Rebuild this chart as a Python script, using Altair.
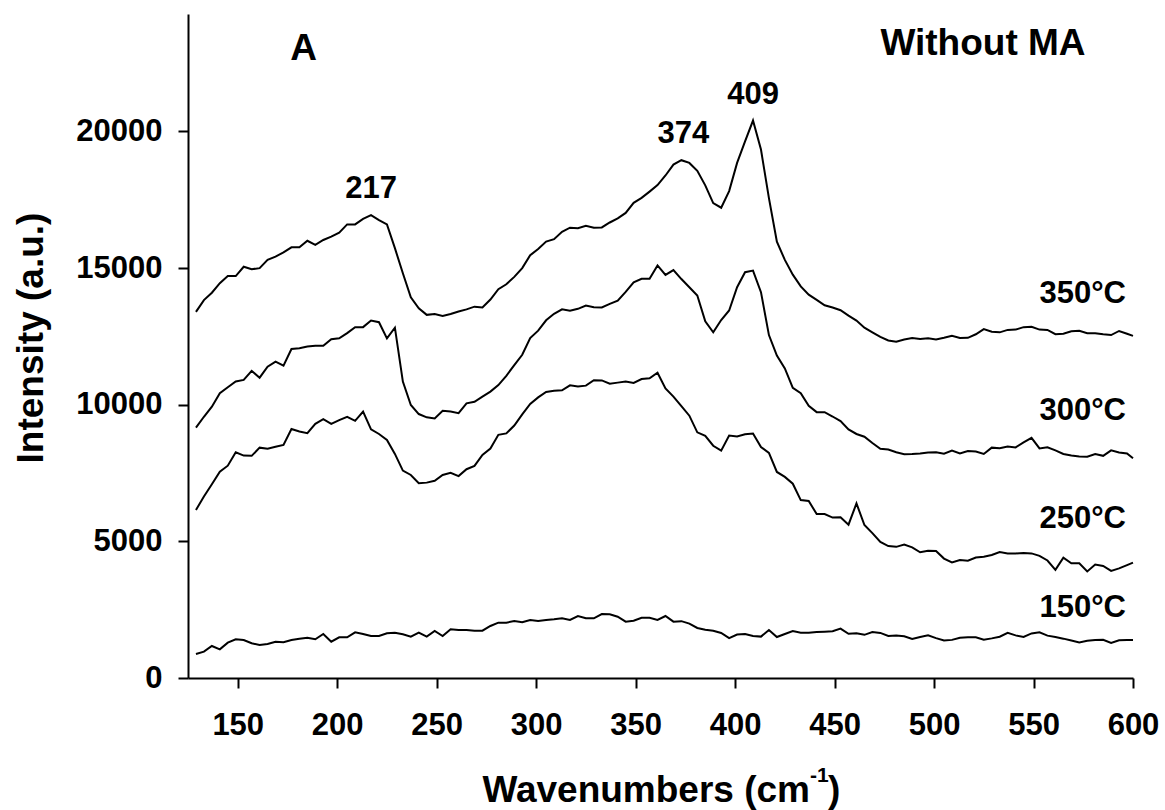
import altair as alt
import pandas as pd

# Raman spectra of the sample calcined at four temperatures (without MA)
wavenumber = [129, 133, 137, 141, 145, 149, 153, 157, 161, 165, 169, 173, 177, 181, 185, 189, 193, 197, 201, 205,
              209, 213, 217, 221, 225, 229, 233, 237, 241, 245, 249, 253, 257, 261, 265, 269, 273, 277, 281, 285,
              289, 293, 297, 301, 305, 309, 313, 317, 321, 325, 329, 333, 337, 341, 345, 349, 353, 357, 361, 365,
              369, 373, 377, 381, 385, 389, 393, 397, 401, 405, 409, 413, 417, 421, 425, 429, 433, 437, 441, 445,
              449, 453, 457, 461, 465, 469, 473, 477, 481, 485, 489, 493, 497, 501, 505, 509, 513, 517, 521, 525,
              529, 533, 537, 541, 545, 549, 553, 557, 561, 565, 569, 573, 577, 581, 585, 589, 593, 597, 600]

i150 = [878, 963, 1171, 1050, 1292, 1416, 1391, 1270, 1208, 1244, 1329, 1307, 1391, 1438, 1475, 1416, 1610, 1329, 1490, 1490,
        1673, 1610, 1537, 1537, 1636, 1658, 1599, 1512, 1658, 1512, 1720, 1537, 1782, 1757, 1757, 1731, 1731, 1903, 2024, 2024,
        2086, 2039, 2123, 2086, 2123, 2148, 2185, 2123, 2269, 2185, 2185, 2342, 2331, 2244, 2061, 2097, 2207, 2207, 2123, 2269,
        2061, 2080, 1990, 1830, 1765, 1730, 1650, 1460, 1590, 1610, 1540, 1515, 1757, 1500, 1610, 1715, 1658, 1660, 1685, 1695,
        1710, 1810, 1620, 1640, 1580, 1680, 1650, 1537, 1555, 1530, 1430, 1500, 1560, 1460, 1370, 1395, 1470, 1490, 1490, 1400,
        1450, 1510, 1650, 1560, 1500, 1630, 1670, 1550, 1500, 1440, 1370, 1300, 1360, 1390, 1400, 1280, 1380, 1390, 1390]

i250 = [6150, 6640, 7090, 7550, 7770, 8260, 8140, 8130, 8430, 8390, 8460, 8530, 9110, 9020, 8960, 9300, 9470, 9300, 9440, 9560,
        9410, 9750, 9100, 8930, 8710, 8200, 7590, 7430, 7130, 7150, 7220, 7430, 7510, 7390, 7640, 7760, 8160, 8400, 8900, 8950,
        9240, 9650, 10030, 10270, 10470, 10510, 10530, 10710, 10670, 10700, 10900, 10890, 10770, 10810, 10850, 10800, 10940, 10970, 11170, 10600,
        10300, 9950, 9600, 8990, 8860, 8500, 8320, 8870, 8840, 8920, 8950, 8450, 8240, 7540, 7360, 7110, 6510, 6480, 6000, 6000,
        5870, 5880, 5610, 6390, 5600, 5300, 4980, 4830, 4800, 4880, 4780, 4600, 4660, 4650, 4370, 4230, 4320, 4290, 4410, 4440,
        4500, 4610, 4560, 4560, 4570, 4560, 4470, 4300, 3960, 4400, 4200, 4200, 3900, 4150, 4100, 3920, 4010, 4130, 4220]

i300 = [9160, 9560, 9930, 10420, 10640, 10850, 10910, 11240, 10990, 11390, 11580, 11430, 12040, 12070, 12130, 12160, 12160, 12400, 12430, 12620,
        12840, 12840, 13080, 13020, 12430, 12820, 10850, 9990, 9660, 9540, 9500, 9780, 9750, 9690, 10050, 10110, 10300, 10480, 10720, 11060,
        11450, 11830, 12440, 12710, 13090, 13330, 13490, 13440, 13510, 13630, 13570, 13560, 13690, 13810, 14130, 14480, 14610, 14610, 15100, 14750,
        14930, 14600, 14300, 14000, 13050, 12650, 13100, 13450, 14300, 14850, 14910, 14120, 12550, 11800, 11330, 10620, 10420, 9960, 9730, 9730,
        9570, 9400, 9100, 8930, 8830, 8600, 8390, 8360, 8260, 8190, 8200, 8220, 8250, 8260, 8210, 8320, 8220, 8310, 8290, 8200,
        8430, 8410, 8470, 8440, 8620, 8790, 8400, 8440, 8330, 8200, 8140, 8110, 8100, 8200, 8130, 8330, 8250, 8220, 8040]

i350 = [13400, 13830, 14100, 14450, 14710, 14710, 15050, 14960, 15000, 15300, 15420, 15580, 15760, 15760, 16000, 15850, 16030, 16150, 16300, 16600,
        16600, 16800, 16940, 16760, 16600, 15730, 14810, 13930, 13530, 13290, 13320, 13250, 13320, 13410, 13490, 13590, 13560, 13850, 14230, 14410,
        14680, 15000, 15470, 15700, 15970, 16060, 16330, 16480, 16460, 16550, 16480, 16490, 16670, 16820, 17020, 17390, 17570, 17800, 18040, 18390,
        18790, 18950, 18850, 18560, 18030, 17380, 17210, 17820, 18850, 19640, 20400, 19340, 17560, 15970, 15300, 14760, 14330, 14030, 13840, 13640,
        13560, 13460, 13260, 13080, 12820, 12650, 12480, 12350, 12310, 12390, 12440, 12410, 12430, 12390, 12450, 12520, 12440, 12450, 12580, 12770,
        12670, 12650, 12740, 12750, 12840, 12850, 12750, 12740, 12580, 12600, 12690, 12710, 12620, 12620, 12580, 12550, 12700, 12600, 12520]

# Peak annotations on the 350 °C spectrum
peak_wn = [217, 374, 409]
peak_height = [16940, 18950, 20400]

# Temperature tags at the right-hand end of each spectrum
temp_labels = ["350°C", "300°C", "250°C", "150°C"]
temp_label_wn = [553, 553, 553, 553]
temp_label_y = [13710, 9440, 5480, 2240]

x_ticks = [150, 200, 250, 300, 350, 400, 450, 500, 550, 600]
y_ticks = [0, 5000, 10000, 15000, 20000]

FONT = "Liberation Sans"
W, H = 945, 664

rows = []
for name, vals in (("150°C", i150), ("250°C", i250), ("300°C", i300), ("350°C", i350)):
    for w, v in zip(wavenumber, vals):
        rows.append({"wn": w, "intensity": v, "series": name})
spectra = pd.DataFrame(rows)

x_scale = alt.Scale(domain=[125, 600], nice=False, zero=False)
y_scale = alt.Scale(domain=[0, 24300], nice=False, zero=True)

x_axis = alt.Axis(
    values=x_ticks, format="d", title=None, grid=False,
    domainColor="black", domainWidth=2, tickColor="black", tickWidth=2, tickSize=10,
    labelFont=FONT, labelFontSize=31, labelFontWeight="bold", labelColor="black",
    labelPadding=22, labelFlush=False, labelOverlap=False,
)
y_axis = alt.Axis(
    values=y_ticks, format="d", title="Intensity (a.u.)", grid=False,
    domainColor="black", domainWidth=2, tickColor="black", tickWidth=2, tickSize=10,
    labelFont=FONT, labelFontSize=31, labelFontWeight="bold", labelColor="black",
    labelPadding=16, labelFlush=False, labelOverlap=False,
    titleFont=FONT, titleFontSize=37, titleFontWeight="bold", titleColor="black",
    titleAngle=270, titleAlign="center", titleBaseline="alphabetic",
    titleX=-146, titleY=323.5,
)

lines = alt.Chart(spectra).mark_line(color="black", strokeWidth=2).encode(
    x=alt.X("wn:Q", scale=x_scale, axis=x_axis),
    y=alt.Y("intensity:Q", scale=y_scale, axis=y_axis),
    detail="series:N",
)

peaks = pd.DataFrame({"wn": peak_wn, "intensity": peak_height, "label": [str(p) for p in peak_wn]})
peak_text = alt.Chart(peaks).mark_text(
    font=FONT, fontSize=31, fontWeight="bold", color="black",
    align="center", baseline="alphabetic", dy=-17,
).encode(
    x=alt.X("wn:Q", scale=x_scale),
    y=alt.Y("intensity:Q", scale=y_scale),
    text="label:N",
)

temps = pd.DataFrame({"wn": temp_label_wn, "intensity": temp_label_y, "label": temp_labels})
temp_text = alt.Chart(temps).mark_text(
    font=FONT, fontSize=31, fontWeight="bold", color="black",
    align="left", baseline="alphabetic",
).encode(
    x=alt.X("wn:Q", scale=x_scale),
    y=alt.Y("intensity:Q", scale=y_scale),
    text="label:N",
)


def free_text(s, x, y, size, align="left"):
    return alt.Chart(pd.DataFrame({"t": [s]})).mark_text(
        font=FONT, fontSize=size, fontWeight="bold", color="black",
        align=align, baseline="alphabetic",
    ).encode(x=alt.value(x), y=alt.value(y), text="t:N")


panel_letter = free_text("A", 115.5, 46, 37, "center")
condition = free_text("Without MA", 795, 41, 37, "center")

# x-axis title with a raised "-1" exponent
x_title_main = free_text("Wavenumbers (cm", 622, 788, 37, "right")
x_title_sup = free_text("-1", 622, 768, 21, "left")
x_title_end = free_text(")", 640, 788, 37, "left")

chart = alt.layer(
    lines, peak_text, temp_text, panel_letter, condition,
    x_title_main, x_title_sup, x_title_end,
).properties(
    width=W, height=H,
    autosize=alt.AutoSizeParams(type="none"),
    padding={"left": 188, "top": 14, "right": 32, "bottom": 132},
    background="white",
).configure_view(stroke=None)

chart.save("out.html", embed_options={"renderer": "svg", "actions": False})
